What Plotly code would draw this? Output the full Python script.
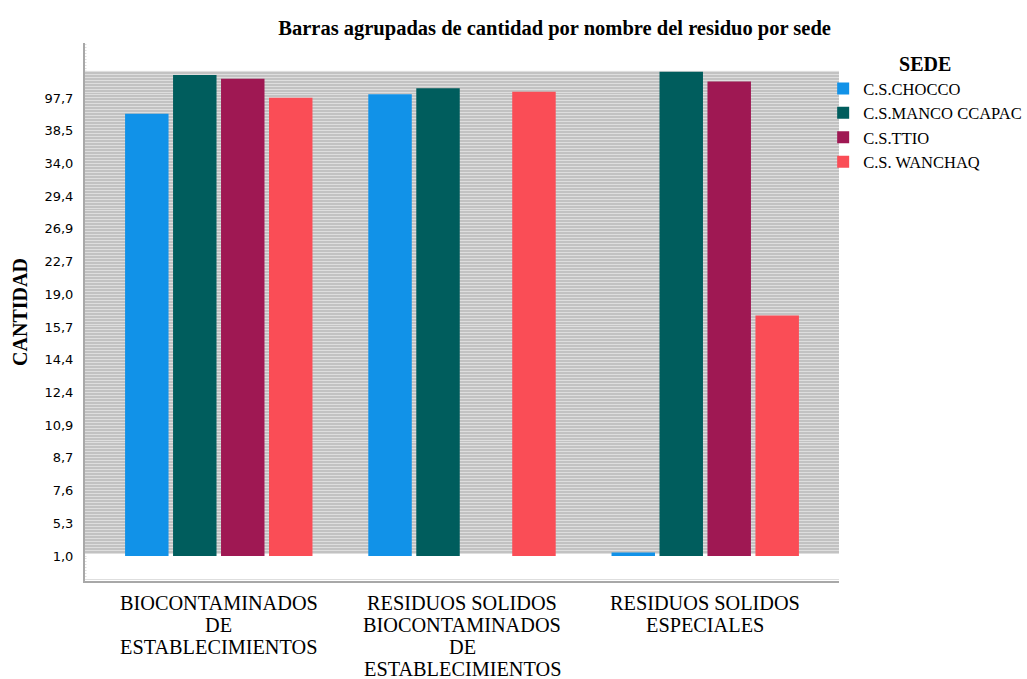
import plotly.graph_objects as go

# Categories (x axis)
residuos = [
    "BIOCONTAMINADOS<br>DE<br>ESTABLECIMIENTOS",
    "RESIDUOS SOLIDOS<br>BIOCONTAMINADOS<br>DE<br>ESTABLECIMIENTOS",
    "RESIDUOS SOLIDOS<br>ESPECIALES",
]
sedes = ["C.S.CHOCCO", "C.S.MANCO CCAPAC", "C.S.TTIO", "C.S. WANCHAQ"]

# Y axis is categorical in the original (SPSS); values are in tick-position units
y_ticktext = ["1,0", "5,3", "7,6", "8,7", "10,9", "12,4", "14,4", "15,7",
              "19,0", "22,7", "26,9", "29,4", "34,0", "38,5", "97,7"]

chocco = [13.52, 14.11, 0.11]
manco = [14.70, 14.30, 14.80]
ttio = [14.59, None, 14.50]
wanchaq = [14.01, 14.19, 7.35]

series = [chocco, manco, ttio, wanchaq]
colors = ["#1192e8", "#005d5d", "#9f1853", "#fa4d56"]

fig = go.Figure()
for name, vals, col in zip(sedes, series, colors):
    fig.add_trace(go.Bar(x=residuos, y=vals, name=name, marker_color=col,
                         marker_line_width=0))

n = len(y_ticktext)
ymin, ytop_gray, ymax = -0.764, 14.83, 15.68

# Multi-line category labels drawn line by line under the axis
annotations = []
for cat in residuos:
    for i, line in enumerate(cat.split("<br>")):
        annotations.append(dict(
            x=cat, xref="x", y=0, yref="paper", yanchor="middle", xanchor="center",
            yshift=-(21.5 + i * 22.1), text=line, showarrow=False,
            height=21, valign="middle", borderpad=0,
            font=dict(family="Liberation Serif", size=20.3, color="black")))

fig.update_layout(
    width=1027, height=679,
    margin=dict(l=85, r=188, t=43, b=98, autoexpand=False),
    paper_bgcolor="white", plot_bgcolor="white",
    barmode="group", bargap=0.211, bargroupgap=0.094,
    title=dict(text="<b>Barras agrupadas de cantidad por nombre del residuo por sede</b>",
               x=0.540, xanchor="center", y=1 - 28 / 679, yanchor="middle",
               font=dict(family="Liberation Serif", size=20.5, color="black")),
    legend=dict(title=dict(text="<b>SEDE</b>", side="top center",
                           font=dict(family="Liberation Serif", size=20, color="black")),
                x=0.979, xanchor="left", y=0.996, yanchor="top",
                font=dict(family="Liberation Serif", size=16.5, color="black"),
                bgcolor="rgba(0,0,0,0)", tracegroupgap=0),
    xaxis=dict(range=[-0.55, 2.55], showline=True, linecolor="#a8a8a8", linewidth=2,
               showgrid=False, ticks="", showticklabels=False, automargin=False),
    yaxis=dict(range=[ymin, ymax], tickmode="array", tickvals=list(range(n)),
               ticktext=y_ticktext, showline=True, linecolor="#a8a8a8", linewidth=2,
               ticks="", ticklabelstandoff=7, zeroline=False, automargin=False,
               showgrid=True, gridcolor="#dedede", gridwidth=1,
               minor=dict(dtick=1 / 11, tick0=0, showgrid=True, gridcolor="#dedede", gridwidth=1),
               tickfont=dict(family="DejaVu Sans", size=13, color="black"),
               title=dict(text="<b>CANTIDAD</b>", standoff=11,
                          font=dict(family="Liberation Serif", size=20, color="black"))),
    annotations=annotations,
    shapes=[
        dict(type="rect", xref="paper", yref="y", x0=0, x1=1, y0=0.06, y1=ytop_gray,
             fillcolor="#c2c2c2", line_width=0, layer="below"),
        dict(type="rect", xref="paper", yref="y", x0=0.002, x1=1.01, y0=ytop_gray, y1=ymax + 0.1,
             fillcolor="white", line_width=0, layer="above"),
        dict(type="rect", xref="paper", yref="y", x0=0.002, x1=1.01, y0=ymin + 0.08, y1=0.0,
             fillcolor="white", line_width=0, layer="above"),
    ],
)

fig.write_html("out.html", config={"displayModeBar": False})

with open("out.html", "r", encoding="utf-8") as f:
    html = f.read()
html = html.replace("<body>", '<body style="margin:0;overflow:hidden">', 1)
with open("out.html", "w", encoding="utf-8") as f:
    f.write(html)
